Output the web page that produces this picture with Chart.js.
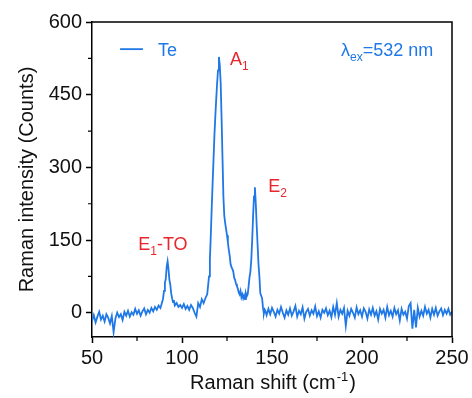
<!DOCTYPE html>
<html>
<head>
<meta charset="utf-8">
<script src="https://cdn.jsdelivr.net/npm/chart.js@4.4.1/dist/chart.umd.min.js"></script>
<style>
  html, body { margin: 0; padding: 0; background: #fff; }
  #wrap { width: 472px; height: 398px; }
</style>
</head>
<body>
<div id="wrap"><canvas id="ramanChart" width="472" height="398"></canvas></div>
<script>
// Raman spectrum of Te in pieces (start, step, counts)
const baseLeft = [-17,-5,-20,-8,2,-14,-6,-18,-3,-10,
  -22,-7,-40,-12,0,-9,-3,-15,2,-6,
  4,-8,1,-4,8,-2,5,-6,3,9,
  -3,6,0,10,3,12,6,15,10,22];                       // 50..89, step 1
const peakE1 = [30,45,62,70,95,106,90,68,58,40,30,22,26]; // 89.5..95.5, step 0.5
const valley = [15,20,12,16,10,18,8,14,6,16,10,0,-8,20,12,28,20,30,38]; // 96..114
const peakA1E2 = [56,75,110,160,215,266,315,365,404,440,
  473,500,528,510,473,400,320,240,200,185,
  172,160,145,130,118,100,94,90,85,72,
  68,60,55,50,42,38,45,32,38,30,
  36,28,40,34,38,55,73,85,110,150,
  200,240,259,225,180,140,100,75,40,35,
  30,10,-2,6,2];                                    // 114.5..146.5, step 0.5
const baseRight = [-5,8,-3,10,2,-8,6,-2,12,0,
  -10,5,-4,9,-6,3,14,-8,4,-3,
  11,-12,2,8,-6,5,-2,13,-7,3,
  -10,6,0,9,-5,4,-9,12,-4,20,
  -8,6,-2,10,-27,4,-6,8,0,-10,
  11,-3,5,-8,9,2,-12,7,-4,10,
  -6,3,-14,8,-2,6,-10,12,-5,4,
  -8,10,-3,5,-16,8,-4,2,-12,14,
  20,-33,6,-30,10,-8,4,-6,12,-2,
  6,-10,8,-4,10,-6,3,9,-5,6,
  -2,8,-4,2];                                       // 147..250, step 1

const segments = [
  { start: 50, step: 1, counts: baseLeft },
  { start: 89.5, step: 0.5, counts: peakE1 },
  { start: 96, step: 1, counts: valley },
  { start: 114.5, step: 0.5, counts: peakA1E2 },
  { start: 147, step: 1, counts: baseRight }
];

const xTicks = [50, 100, 150, 200, 250];
const xMinor = [75, 125, 175, 225];
const yTicks = [0, 150, 300, 450, 600];
const yMinor = [75, 225, 375, 525];

// peak labels, in data units (x, y)
const peakLabels = [
  { main: 'A', sub: '1', tail: '', x: 126.7, y: 511 },
  { main: 'E', sub: '2', tail: '', x: 147.9, y: 249 },
  { main: 'E', sub: '1', tail: '-TO', x: 75.7, y: 130 }
];

const lineColor = '#1f78e6';
const labelRed = '#e8262d';
const fontFam = "'Liberation Sans', Arial, sans-serif";

let spectrum = [];
segments.forEach(function (seg) {
  seg.counts.forEach(function (c, i) {
    spectrum.push({ x: seg.start + i * seg.step, y: c });
  });
});

function drawRich(ctx, parts, x, y, align) {
  let widths = parts.map(function (p) {
    ctx.font = (p.sub || p.sup ? '12px ' : '18px ') + fontFam;
    return ctx.measureText(p.t).width;
  });
  let total = widths.reduce(function (a, b) { return a + b; }, 0);
  let cx = align === 'right' ? x - total : (align === 'center' ? x - total / 2 : x);
  parts.forEach(function (p, i) {
    ctx.font = (p.sub || p.sup ? '12px ' : '18px ') + fontFam;
    let dy = p.sub ? 5 : (p.sup ? -8 : 0);
    ctx.fillText(p.t, cx, y + dy);
    cx += widths[i];
  });
}

const extras = {
  id: 'extras',
  afterDraw: function (chart) {
    const ctx = chart.ctx;
    const xs = chart.scales.x, ys = chart.scales.y;
    const area = chart.chartArea;
    ctx.save();
    // top and right frame
    ctx.strokeStyle = '#000';
    ctx.lineWidth = 1.5;
    ctx.beginPath();
    ctx.moveTo(area.left, area.top);
    ctx.lineTo(area.right, area.top);
    ctx.lineTo(area.right, area.bottom);
    ctx.stroke();
    // minor ticks
    ctx.lineWidth = 1.2;
    ctx.beginPath();
    xMinor.forEach(function (v) {
      let px = xs.getPixelForValue(v);
      ctx.moveTo(px, area.bottom);
      ctx.lineTo(px, area.bottom + 4);
    });
    yMinor.forEach(function (v) {
      let py = ys.getPixelForValue(v);
      ctx.moveTo(area.left, py);
      ctx.lineTo(area.left - 4, py);
    });
    ctx.stroke();

    ctx.textBaseline = 'alphabetic';
    // peak labels
    ctx.fillStyle = labelRed;
    peakLabels.forEach(function (l) {
      let parts = [{ t: l.main }, { t: l.sub, sub: true }];
      if (l.tail) parts.push({ t: l.tail });
      drawRich(ctx, parts, xs.getPixelForValue(l.x), ys.getPixelForValue(l.y), 'left');
    });

    // legend
    ctx.strokeStyle = lineColor;
    ctx.lineWidth = 1.8;
    ctx.beginPath();
    ctx.moveTo(xs.getPixelForValue(65.6), ys.getPixelForValue(544));
    ctx.lineTo(xs.getPixelForValue(78.3), ys.getPixelForValue(544));
    ctx.stroke();
    ctx.fillStyle = lineColor;
    drawRich(ctx, [{ t: 'Te' }], xs.getPixelForValue(86.7), ys.getPixelForValue(530), 'left');
    drawRich(ctx, [{ t: 'λ' }, { t: 'ex', sub: true }, { t: '=532 nm' }],
      xs.getPixelForValue(239.6), ys.getPixelForValue(530), 'right');

    // x axis title with superscript
    ctx.fillStyle = '#111';
    let a = 'Raman shift (cm', b = ')';
    ctx.font = '13px ' + fontFam;
    let wSup = ctx.measureText('-1').width;
    ctx.font = '20px ' + fontFam;
    let wa = ctx.measureText(a).width, wb = ctx.measureText(b).width;
    let tx = (area.left + area.right) / 2 - (wa + wSup + wb) / 2;
    let ty = 389;
    ctx.fillText(a, tx, ty);
    ctx.font = '13px ' + fontFam;
    ctx.fillText('-1', tx + wa + 1, ty - 8);
    ctx.font = '20px ' + fontFam;
    ctx.fillText(b, tx + wa + wSup + 2, ty);
    ctx.restore();
  }
};

const ctx = document.getElementById('ramanChart');
new Chart(ctx, {
  type: 'line',
  data: {
    datasets: [{
      label: 'Te',
      data: spectrum,
      borderColor: lineColor,
      borderWidth: 1.8,
      pointRadius: 0,
      tension: 0,
      fill: false
    }]
  },
  options: {
    responsive: false,
    animation: false,
    layout: { padding: { top: 22, right: 20, left: 0, bottom: 0 } },
    plugins: {
      legend: { display: false },
      tooltip: { enabled: false }
    },
    scales: {
      x: {
        type: 'linear',
        min: 50,
        max: 250,
        afterBuildTicks: function (scale) {
          scale.ticks = xTicks.map(function (v) { return { value: v }; });
        },
        afterFit: function (scale) { scale.height = 61; },
        grid: { drawOnChartArea: false, drawTicks: true, tickLength: 6, tickColor: '#000', tickWidth: 1.5 },
        border: { display: true, color: '#000', width: 1.5 },
        ticks: { color: '#111', font: { family: fontFam, size: 20 }, padding: 3, maxRotation: 0 }
      },
      y: {
        type: 'linear',
        min: -50,
        max: 600,
        afterBuildTicks: function (scale) {
          scale.ticks = yTicks.map(function (v) { return { value: v }; });
        },
        afterFit: function (scale) { scale.width = 92; },
        grid: { drawOnChartArea: false, drawTicks: true, tickLength: 6, tickColor: '#000', tickWidth: 1.5 },
        border: { display: true, color: '#000', width: 1.5 },
        ticks: { color: '#111', font: { family: fontFam, size: 20 }, padding: 4 },
        title: {
          display: true,
          text: 'Raman intensity (Counts)',
          color: '#111',
          font: { family: fontFam, size: 20 },
          padding: { top: 15, bottom: 0 }
        }
      }
    }
  },
  plugins: [extras]
});
</script>
</body>
</html>
